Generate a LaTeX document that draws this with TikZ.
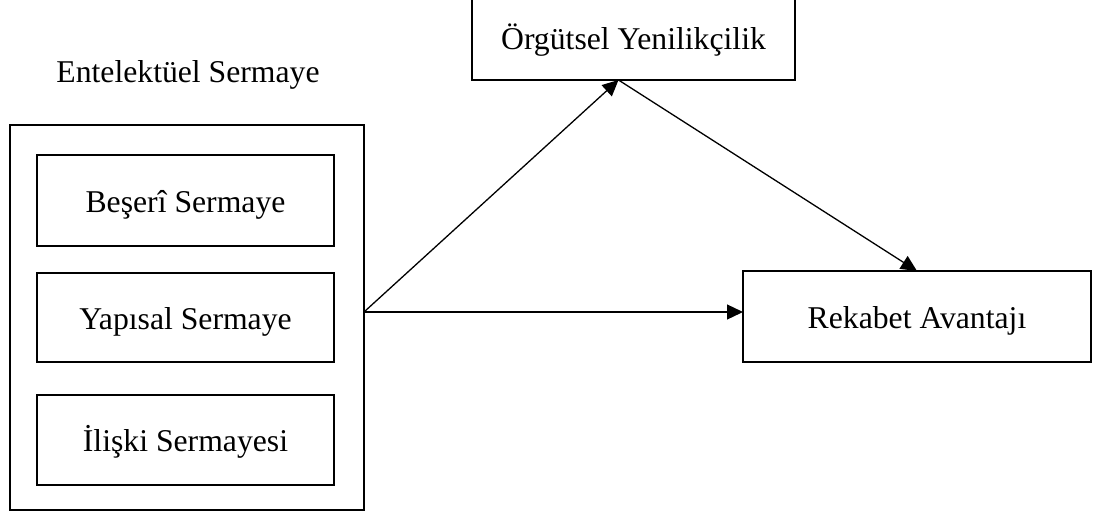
\documentclass[tikz,border=0pt]{standalone}
\usepackage{fontspec}
\setmainfont{Liberation Serif}
\usetikzlibrary{arrows.meta}

\begin{document}
\begin{tikzpicture}[x=1pt,y=-1pt,
  every node/.style={font=\fontsize{31.7}{38}\selectfont, inner sep=0pt, outer sep=0pt},
  framebox/.style={draw, line width=2.3pt, text height=29pt, text depth=6pt},
  inbox/.style={framebox, minimum width=297pt},
  link/.style={line width=1.3pt, -{Triangle[length=16pt,width=15pt]}}
]
\useasboundingbox (0,0) rectangle (1096,517);

% title of the grouped construct
\node[anchor=base] (ent) at (188,82) {Entelektüel Sermaye};

% outer frame with its three components
\node[draw, line width=2.3pt, minimum width=354pt, minimum height=385pt] (outer) at (187,317.5) {};
\node[inbox, minimum height=91pt] (beseri)  at (185.5,200.5) {Beşerî Sermaye};
\node[inbox, minimum height=89pt] (yapisal) at (185.5,317.5) {Yapısal Sermaye};
\node[inbox, minimum height=90pt] (iliski)  at (185.5,440)   {İlişki Sermayesi};

% mediator and outcome
\node[framebox, minimum width=323pt, minimum height=100pt, text height=44pt, text depth=6pt] (org) at (633.5,30) {Örgütsel Yenilikçilik};
\node[framebox, minimum width=348pt, minimum height=91pt] (rek) at (917,316.5) {Rekabet Avantajı};

% connector end points
\coordinate (src) at (outer.east |- 0,312);
\coordinate (orgin) at ([xshift=-15pt]org.south);

\draw[link] (src) -- (orgin);
\draw[link] (orgin) -- (rek.north);
\draw[link] (src) -- (rek.west |- src);
\end{tikzpicture}
\end{document}
